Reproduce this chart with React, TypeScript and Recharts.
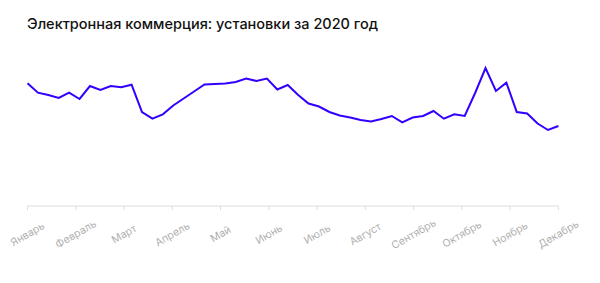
import React from "react";
import { LineChart, Line, XAxis, YAxis } from "recharts";

const title = "Электронная коммерция: установки за 2020 год";

const monthLabels = [
  "Январь", "Февраль", "Март", "Апрель", "Май", "Июнь",
  "Июль", "Август", "Сентябрь", "Октябрь", "Ноябрь", "Декабрь",
];

const installs = [
  122.7, 113.3, 111, 108, 113.3, 107, 120, 116, 120, 118.7, 121.3, 94,
  87.3, 91.7, 100.5, 107.5, 114.5, 121.5, 122, 122.5, 124, 127.5, 125, 127.5,
  116.5, 121, 111, 102.5, 99.5, 94, 90.5, 88.5, 86, 84.5, 87, 90,
  83.7, 88.5, 90, 95, 87.3, 91.7, 90, 113, 138, 115, 123.3, 94,
  92.5, 82.5, 76, 80,
];

const weeks = installs.map((_, i) => i);

const data = weeks.map((w, i) => ({ week: w, value: installs[i] }));

const lastWeek = weeks[weeks.length - 1];
const monthTicks = monthLabels.map((_, k) => (k * lastWeek) / (monthLabels.length - 1));

const MonthTick = (props: any) => {
  const { x, y, payload } = props;
  const idx = Math.round((payload.value * (monthLabels.length - 1)) / lastWeek);
  const cy = y + 22;
  return (
    <text
      x={x}
      y={cy}
      dy="0.35em"
      textAnchor="middle"
      fontSize={10.5}
      fill="#b0b0b0"
      fontFamily="Inter, 'Noto Sans', sans-serif"
      transform={`rotate(-30, ${x}, ${cy})`}
    >
      {monthLabels[idx]}
    </text>
  );
};

export default function App() {
  return (
    <div
      style={{
        position: "absolute",
        left: 0,
        top: 0,
        width: 600,
        height: 283,
        background: "#fff",
        fontFamily: "Inter, 'Noto Sans', sans-serif",
      }}
    >
      <div
        style={{
          position: "absolute",
          left: 27,
          top: 15,
          fontSize: 14.5,
          fontWeight: 500,
          color: "#111",
          whiteSpace: "nowrap",
        }}
      >
        {title}
      </div>
      <LineChart
        width={600}
        height={283}
        data={data}
        margin={{ top: 56, right: 41.6, left: 27.5, bottom: 0 }}
      >
        <YAxis hide domain={[0, 150]} />
        <XAxis
          dataKey="week"
          type="number"
          domain={[0, lastWeek]}
          ticks={monthTicks}
          interval={0}
          height={77}
          axisLine={{ stroke: "#dcdcdc" }}
          tickLine={{ stroke: "#dcdcdc" }}
          tickSize={4}
          tick={<MonthTick />}
        />
        <Line
          type="linear"
          dataKey="value"
          stroke="#3300ff"
          strokeWidth={2}
          dot={false}
          isAnimationActive={false}
        />
      </LineChart>
    </div>
  );
}
